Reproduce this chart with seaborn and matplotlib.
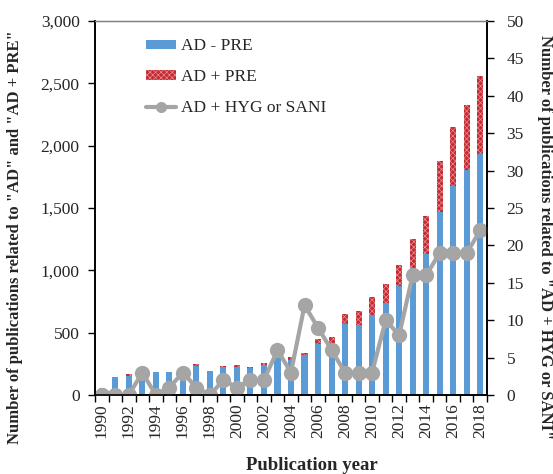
import numpy as np
import pandas as pd
import matplotlib
matplotlib.use("Agg")
import matplotlib.pyplot as plt
from matplotlib.patches import Patch
from matplotlib.lines import Line2D
import seaborn as sns

years = list(range(1990, 2019))
ad_minus_pre = [55, 147, 155, 180, 187, 182, 200, 230, 193, 223, 225, 217, 244, 310, 282,
                318, 408, 413, 573, 565, 645, 740, 872, 1021, 1128, 1467, 1680, 1808, 1933]
ad_plus_pre = [0, 0, 13, 5, 0, 5, 10, 16, 0, 10, 15, 10, 10, 10, 20,
               15, 45, 54, 80, 107, 142, 153, 168, 232, 307, 413, 467, 520, 627]
ad_hyg_sani = [0, 0, 0, 3, 0, 1, 3, 1, 0, 2, 1, 2, 2, 6, 3,
               12, 9, 6, 3, 3, 3, 10, 8, 16, 16, 19, 19, 19, 22]

BLUE = "#5b9bd5"
RED = "#c42a34"
HATCH_C = "#e88e8e"
GRAY = "#a5a5a5"

sns.set_theme(style="ticks")
plt.rcParams["font.family"] = ["Liberation Serif", "DejaVu Serif"]
plt.rcParams["hatch.linewidth"] = 0.5

df = pd.DataFrame({
    "year": [str(y) for y in years],
    "total": np.array(ad_minus_pre) + np.array(ad_plus_pre),
    "ad_minus_pre": ad_minus_pre,
    "hyg": ad_hyg_sani,
})

fig = plt.figure(figsize=(5.53, 4.74), dpi=100)
ax = fig.add_axes([95 / 553, 1 - 395 / 474, 392 / 553, 374 / 474])

sns.barplot(data=df, x="year", y="total", color=RED, saturation=1, width=0.45,
            linewidth=0, ax=ax)
for p in ax.containers[0]:
    p.set_hatch("xxxxxx")
    p.set_edgecolor(HATCH_C)
    p.set_linewidth(0)
sns.barplot(data=df, x="year", y="ad_minus_pre", color=BLUE, saturation=1, width=0.45,
            linewidth=0, ax=ax)

ax2 = ax.twinx()
ax2.plot(np.arange(len(years)), df["hyg"], color=GRAY, lw=3, marker="o", ms=11,
         markeredgewidth=0, solid_joinstyle="miter")

ax.set_xlim(-0.5, len(years) - 0.5)
ax.set_ylim(0, 3000)
ax.set_yticks(np.arange(0, 3001, 500))
ax.set_yticklabels([f"{v:,}" for v in range(0, 3001, 500)])
ax2.set_ylim(0, 50)
ax2.set_yticks(np.arange(0, 51, 5))

ax.set_xticks(np.arange(len(years)))
ax.set_xticklabels([str(y) if y % 2 == 0 else "" for y in years], rotation=90)
ax.set_xticks(np.arange(-0.5, len(years), 1), minor=True)
ax.tick_params(axis="x", which="major", length=0, pad=6, labelsize=12.5)
ax.tick_params(axis="x", which="minor", length=5, width=1, color="black", direction="out")
ax.tick_params(axis="y", length=5, width=1, color="black", pad=6, labelsize=12.5)
ax2.tick_params(axis="y", length=5, width=1, color="black", pad=9, labelsize=12.5)

for a in (ax, ax2):
    for s in ("left", "right", "bottom"):
        a.spines[s].set_color("black")
        a.spines[s].set_linewidth(1.2)
    a.spines["top"].set_color("#7f7f7f")
    a.spines["top"].set_linewidth(0.9)

ax.set_xlabel("Publication year", fontsize=13.5, fontweight="bold")
ax.xaxis.set_label_coords((312 - 95) / 392, (395 - 465) / 374)
ax.xaxis.label.set_va("center")

ax.set_ylabel('Number of publications related to "AD" and "AD + PRE"',
              fontsize=12, fontweight="bold")
ax.yaxis.set_label_coords((15 - 95) / 392, (395 - 237) / 374)
ax.yaxis.label.set_va("center")
ax.yaxis.label.set_ha("center")

ax2.set_ylabel('Number of publications related to "AD + HYG or SANI"',
               fontsize=12, fontweight="bold", rotation=270)
ax2.yaxis.set_label_coords((545 - 95) / 392, (395 - 237) / 374)
ax2.yaxis.label.set_va("center")
ax2.yaxis.label.set_ha("center")

handles = [
    Patch(facecolor=BLUE, edgecolor="none", label="AD - PRE"),
    Patch(facecolor=RED, edgecolor=HATCH_C, hatch="xxxxxx", lw=0, label="AD + PRE"),
    Line2D([], [], color=GRAY, lw=3, marker="o", ms=8, markeredgewidth=0,
           label="AD + HYG or SANI"),
]
ax2.legend(handles=handles, loc="upper left", bbox_to_anchor=(0.09, 0.995),
           frameon=False, fontsize=12.5, handlelength=1.75, handleheight=0.45,
           handletextpad=0.3, labelspacing=0.85)

fig.savefig("out.png", dpi=100)
